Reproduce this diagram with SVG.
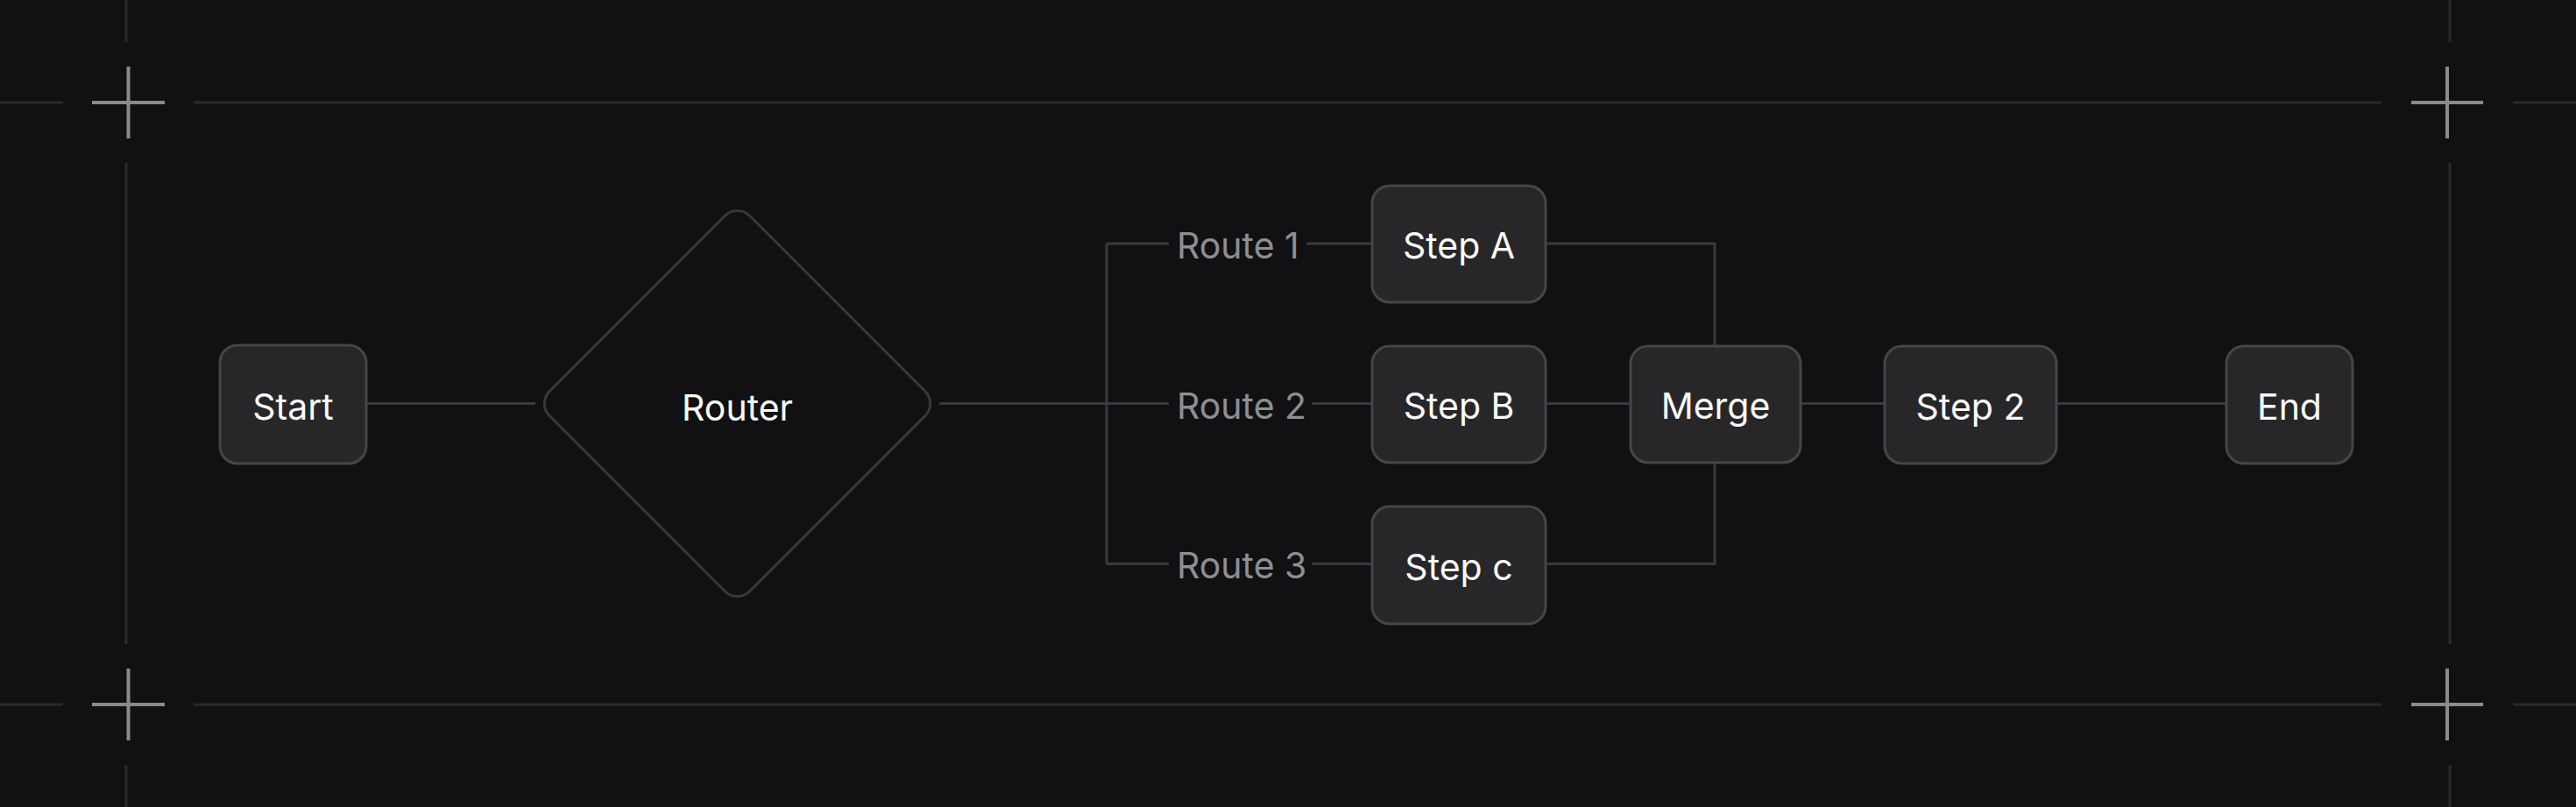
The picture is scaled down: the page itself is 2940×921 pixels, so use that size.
<svg xmlns="http://www.w3.org/2000/svg" width="2940" height="921" viewBox="0 0 2940 921">
<style>
.grid{stroke:#2a2a2d;stroke-width:3;fill:none}
.cross{stroke:#8a8a8d;stroke-width:4;fill:none}
.conn{stroke:#3a3a3e;stroke-width:3;fill:none}
.box{fill:#27272a;stroke:#45454a;stroke-width:3}
.dia{fill:#111113;stroke:#38383c;stroke-width:3}
.lbl{font-family:Inter,"Liberation Sans",sans-serif;font-size:41px;fill:#fafafa;text-anchor:middle}
.rt{font-family:Inter,"Liberation Sans",sans-serif;font-size:41px;fill:#8e8e93}
</style>
<rect width="2940" height="921" fill="#111113"/>
<g id="frame">
<path class="grid" d="M0 117H72M221 117H2718M2868 117H2940M0 804H72M221 804H2718M2868 804H2940M144 0V48M144 186V735M144 873V921M2796 0V48M2796 186V735M2796 873V921"/>
<path class="cross" d="M105 117H188M146.5 76V158M2752 117H2834M2793 76V158M105 804H188M146.5 763V845M2752 804H2834M2793 763V845"/>
</g>
<g id="connectors">
<path class="conn" d="M418 460.5H611"/>
<path class="conn" d="M1072 460.5H1263M1263 278V643.5"/>
<path class="conn" d="M1263 278H1334M1491 278H1566"/>
<path class="conn" d="M1263 460.5H1334M1497 460.5H1566"/>
<path class="conn" d="M1263 643.5H1334M1497 643.5H1566"/>
<path class="conn" d="M1764 278H1957V395"/>
<path class="conn" d="M1764 460.5H1861"/>
<path class="conn" d="M1764 643.5H1957V528"/>
<path class="conn" d="M2055 460.5H2151"/>
<path class="conn" d="M2347 460.5H2541"/>
</g>
<g id="route-labels">
<text class="rt" x="1343" y="295">Route 1</text>
<text class="rt" x="1343" y="478">Route 2</text>
<text class="rt" x="1343" y="660">Route 3</text>
</g>
<g id="start"><rect class="box" x="251" y="394" width="167" height="135" rx="20"/><text class="lbl" x="334.5" y="478.5">Start</text></g>
<g id="router"><rect class="dia" x="680" y="299" width="323" height="323" rx="20" transform="rotate(45 841.5 460.5)"/><text class="lbl" x="841.5" y="479.5">Router</text></g>
<g id="step-a"><rect class="box" x="1566" y="212" width="198" height="133" rx="20"/><text class="lbl" x="1665" y="295">Step A</text></g>
<g id="step-b"><rect class="box" x="1566" y="395" width="198" height="133" rx="20"/><text class="lbl" x="1665" y="478">Step B</text></g>
<g id="step-c"><rect class="box" x="1566" y="578" width="198" height="134" rx="20"/><text class="lbl" x="1665" y="662">Step c</text></g>
<g id="merge"><rect class="box" x="1861" y="395" width="194" height="133" rx="20"/><text class="lbl" x="1958" y="478">Merge</text></g>
<g id="step-2"><rect class="box" x="2151" y="395" width="196" height="134" rx="20"/><text class="lbl" x="2249" y="478.5">Step 2</text></g>
<g id="end"><rect class="box" x="2541" y="395" width="144" height="134" rx="20"/><text class="lbl" x="2613" y="478.5">End</text></g>
</svg>
